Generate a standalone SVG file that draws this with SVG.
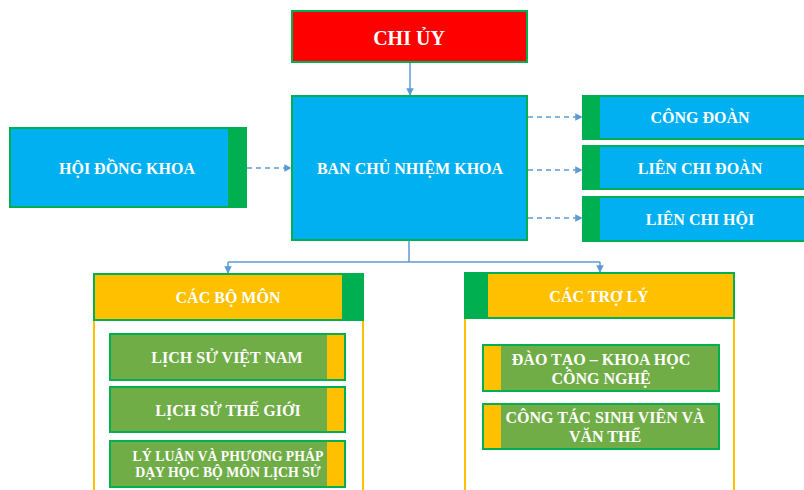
<svg xmlns="http://www.w3.org/2000/svg" width="804" height="490" viewBox="0 0 804 490">
<defs>
<style>
.t{font-family:"Liberation Serif","Times New Roman",serif;font-weight:bold;fill:#ffffff;text-anchor:middle;dominant-baseline:central}
.blue{fill:#00B0F0;stroke:#00B050;stroke-width:2}
.red{fill:#FF0000;stroke:#00B050;stroke-width:2}
.yel{fill:#FFC000;stroke:#00B050;stroke-width:2}
.olive{fill:#70AD47;stroke:#00B050;stroke-width:2}
.gs{fill:#00B050}
.ys{fill:#FFC000}
.cont{fill:#ffffff;stroke:#FFC000;stroke-width:2}
.ln{fill:none;stroke:#5B9BD5;stroke-width:1.5}
.dash{fill:none;stroke:#5B9BD5;stroke-width:1.5;stroke-dasharray:5 4}
</style>
<marker id="ah" viewBox="0 0 10 10" refX="9" refY="5" markerWidth="5" markerHeight="5" orient="auto">
<path d="M0,0 L10,5 L0,10 z" fill="#5B9BD5"/>
</marker>
</defs>
<rect width="804" height="490" fill="#ffffff"/>

<g id="connectors">
<path class="ln" d="M410,62 V95" marker-end="url(#ah)"/>
<path class="dash" d="M247,168 H291" marker-end="url(#ah)"/>
<path class="dash" d="M528,117 H582" marker-end="url(#ah)"/>
<path class="dash" d="M528,170 H582" marker-end="url(#ah)"/>
<path class="dash" d="M528,218 H582" marker-end="url(#ah)"/>
<path class="ln" d="M409,240 V262 M228,262 H600"/>
<path class="ln" d="M228,262 V273" marker-end="url(#ah)"/>
<path class="ln" d="M600,262 V272" marker-end="url(#ah)"/>
</g>

<g id="chi-uy">
<rect class="red" x="292" y="11" width="235" height="51"/>
<text class="t" x="409" y="38" font-size="20">CHI ỦY</text>
</g>

<g id="ban-chu-nhiem">
<rect class="blue" x="292" y="96" width="235" height="144"/>
<text class="t" x="410" y="168" font-size="16">BAN CHỦ NHIỆM KHOA</text>
</g>

<g id="hoi-dong-khoa">
<rect class="blue" x="10" y="128" width="236" height="79"/>
<rect class="gs" x="228" y="128" width="18" height="79"/>
<text class="t" x="127" y="168" font-size="16">HỘI ĐỒNG KHOA</text>
</g>

<g id="cong-doan">
<rect class="blue" x="583" y="96" width="225" height="43"/>
<rect class="gs" x="583" y="96" width="17" height="43"/>
<text class="t" x="700" y="117" font-size="16">CÔNG ĐOÀN</text>
</g>

<g id="lien-chi-doan">
<rect class="blue" x="583" y="146" width="225" height="43"/>
<rect class="gs" x="583" y="146" width="17" height="43"/>
<text class="t" x="700" y="168" font-size="16">LIÊN CHI ĐOÀN</text>
</g>

<g id="lien-chi-hoi">
<rect class="blue" x="583" y="197" width="225" height="44"/>
<rect class="gs" x="583" y="197" width="17" height="44"/>
<text class="t" x="700" y="219" font-size="16">LIÊN CHI HỘI</text>
</g>

<g id="cac-bo-mon">
<rect class="cont" x="94" y="320" width="269" height="180"/>
<rect class="yel" x="94" y="274" width="269" height="46"/>
<rect class="gs" x="342" y="274" width="21" height="46"/>
<text class="t" x="228" y="297" font-size="16">CÁC BỘ MÔN</text>
</g>

<g id="lich-su-viet-nam">
<rect class="olive" x="110" y="334" width="235" height="46"/>
<rect class="ys" x="327" y="335" width="17" height="44"/>
<text class="t" x="227" y="357" font-size="16">LỊCH SỬ VIỆT NAM</text>
</g>

<g id="lich-su-the-gioi">
<rect class="olive" x="110" y="387" width="235" height="45"/>
<rect class="ys" x="327" y="388" width="17" height="43"/>
<text class="t" x="228" y="410" font-size="16">LỊCH SỬ THẾ GIỚI</text>
</g>

<g id="ly-luan">
<rect class="olive" x="110" y="441" width="235" height="46"/>
<rect class="ys" x="327" y="442" width="17" height="44"/>
<text class="t" x="228" y="456" font-size="13.8">LÝ LUẬN VÀ PHƯƠNG PHÁP</text>
<text class="t" x="228" y="472" font-size="13.8">DẠY HỌC BỘ MÔN LỊCH SỬ</text>
</g>

<g id="cac-tro-ly">
<rect class="cont" x="465" y="318" width="269" height="182"/>
<rect class="yel" x="465" y="273" width="269" height="45"/>
<rect class="gs" x="465" y="273" width="23" height="45"/>
<text class="t" x="599" y="296" font-size="16">CÁC TRỢ LÝ</text>
</g>

<g id="dao-tao">
<rect class="olive" x="483" y="345" width="236" height="46"/>
<rect class="ys" x="484" y="346" width="17" height="44"/>
<text class="t" x="601" y="359" font-size="16">ĐÀO TẠO – KHOA HỌC</text>
<text class="t" x="601" y="378" font-size="16">CÔNG NGHỆ</text>
</g>

<g id="cong-tac-sinh-vien">
<rect class="olive" x="483" y="404" width="236" height="45"/>
<rect class="ys" x="484" y="405" width="17" height="43"/>
<text class="t" x="605" y="417" font-size="16">CÔNG TÁC SINH VIÊN VÀ</text>
<text class="t" x="605" y="436" font-size="16">VĂN THỂ</text>
</g>
</svg>
